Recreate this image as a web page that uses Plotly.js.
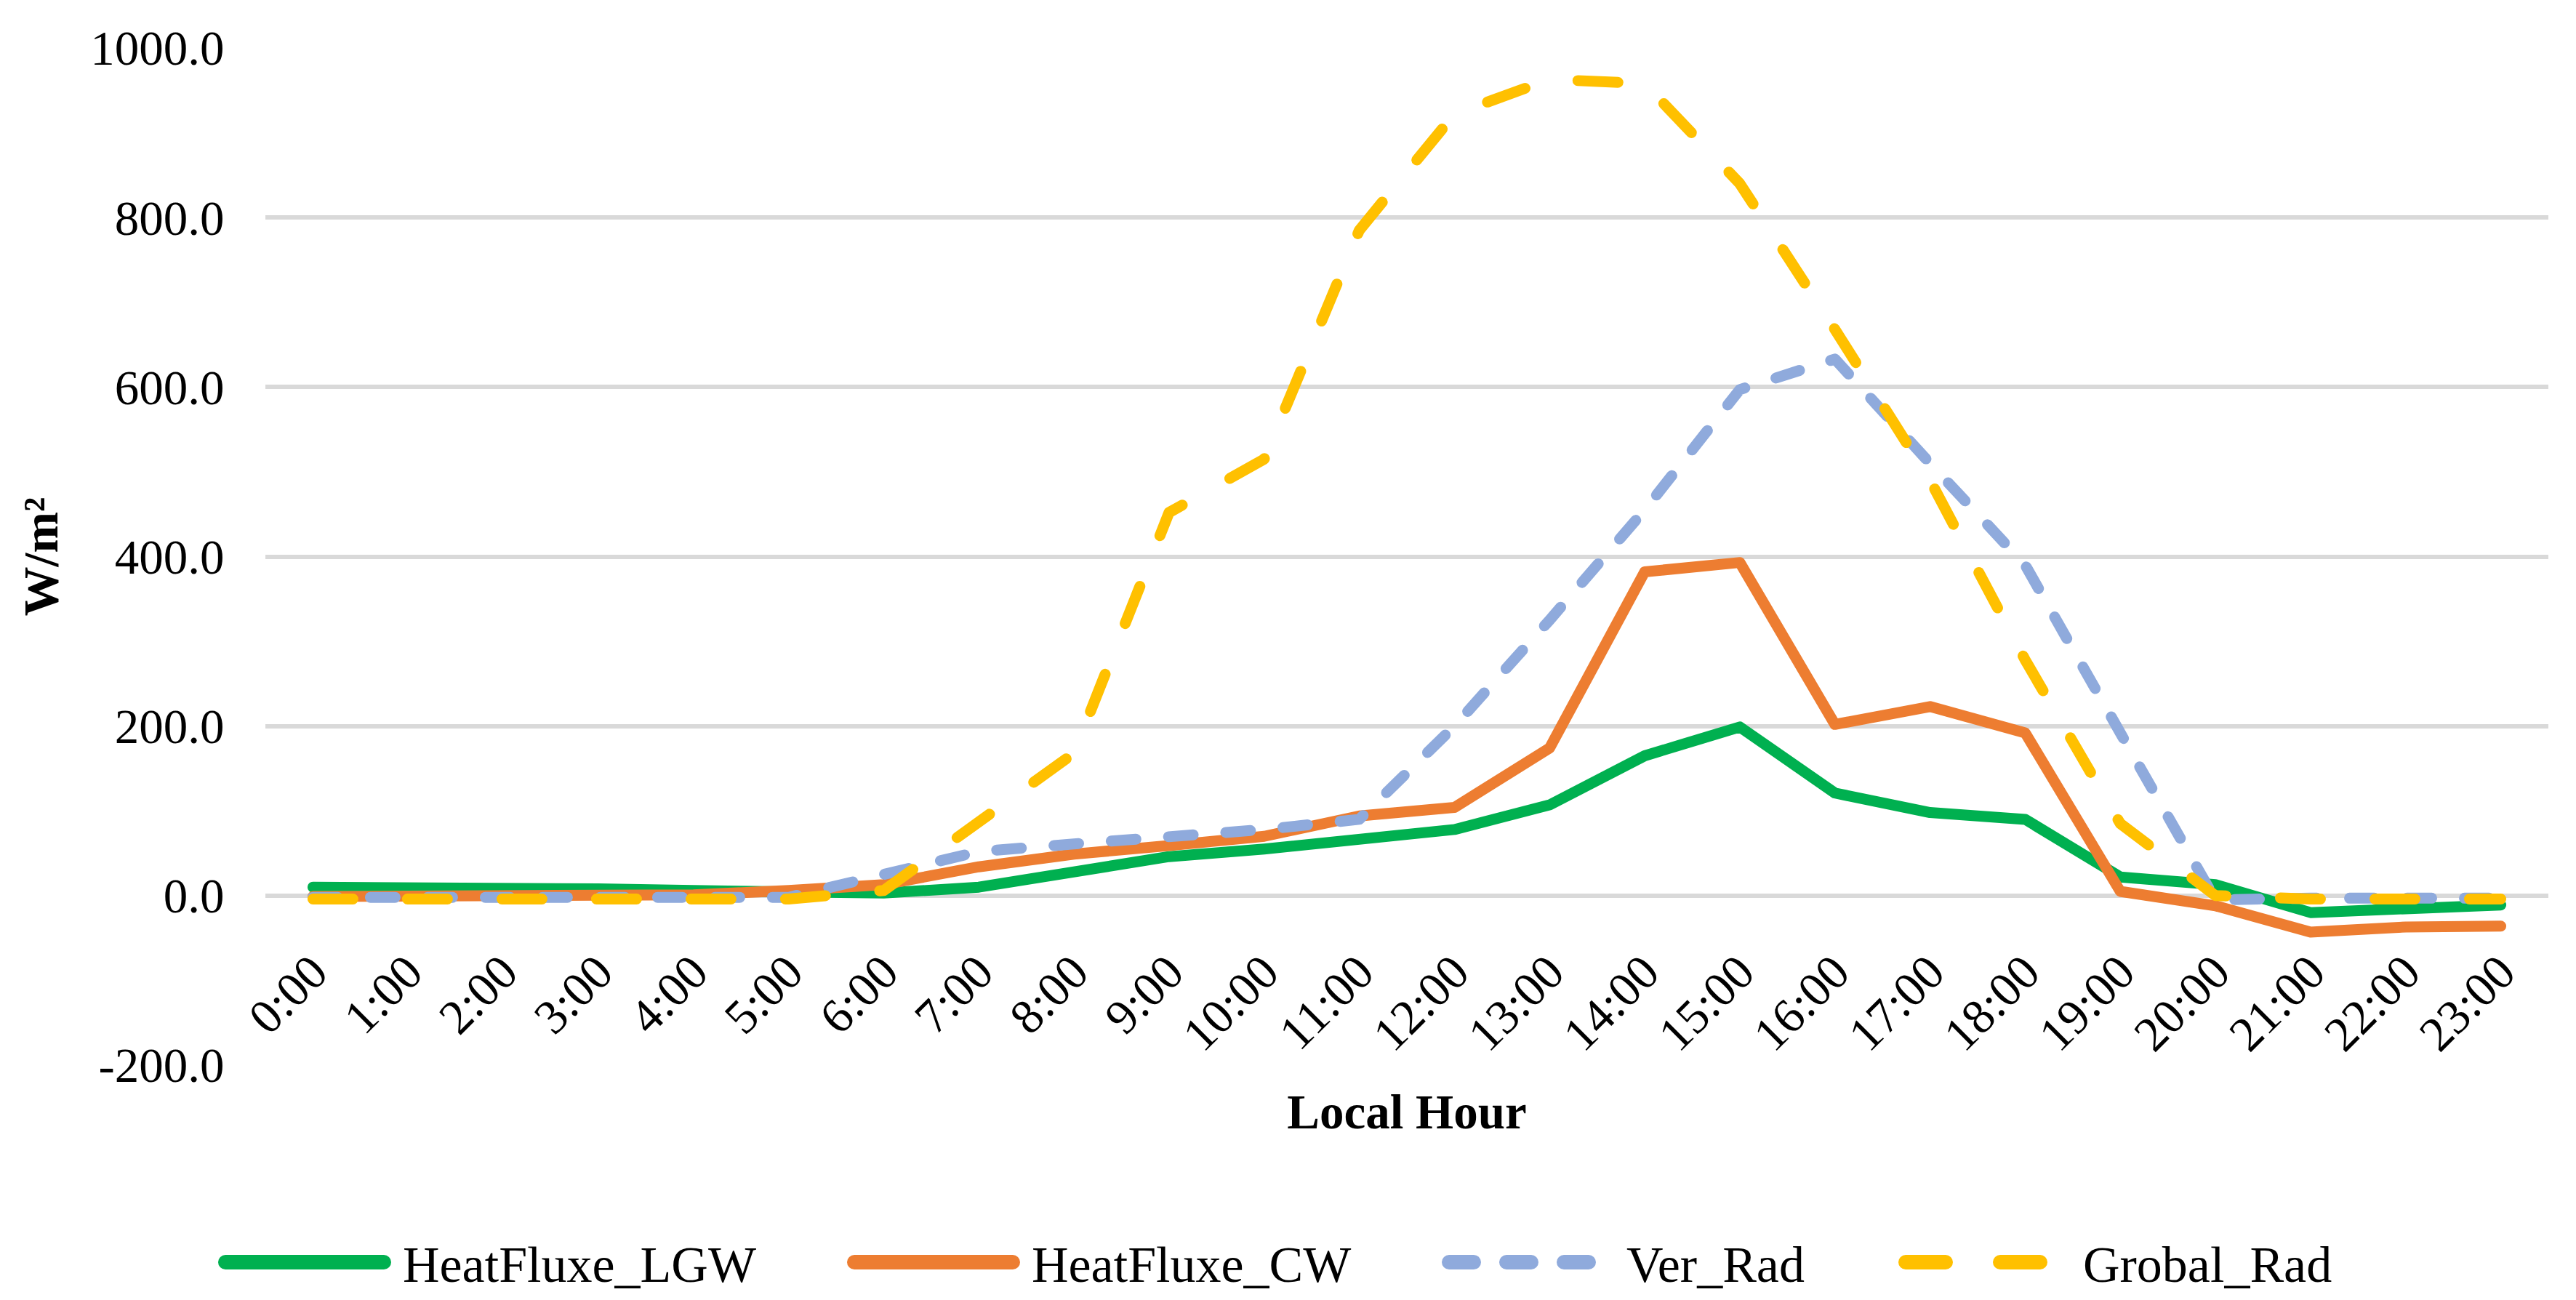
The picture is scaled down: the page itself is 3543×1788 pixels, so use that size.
<!DOCTYPE html>
<html>
<head>
<meta charset="utf-8">
<script src="https://cdn.plot.ly/plotly-3.0.1.min.js"></script>
<style>
  html, body { margin: 0; padding: 0; background: #fff; }
  #chart { width: 3543px; height: 1788px; }
</style>
</head>
<body>
<div id="chart"></div>
<script>
var hours = ["0:00","1:00","2:00","3:00","4:00","5:00","6:00","7:00","8:00","9:00","10:00","11:00",
             "12:00","13:00","14:00","15:00","16:00","17:00","18:00","19:00","20:00","21:00","22:00","23:00"];
var heatFluxeLGW = [10, 10, 9, 8, 6, 4, 3, 10, 27, 46, 55, 65, 78, 107, 165, 199, 121, 98, 90, 22, 13, -20, -16, -11];
var heatFluxeCW  = [-1, -1, -1, -1, 1, 6, 13, 34, 49, 59, 70, 94, 104, 174, 382, 393, 202, 223, 192, 5, -12, -43, -37, -36];
var verRad       = [-2, -2, -2, -2, -2, -2, 25, 52, 61, 69, 78, 90, 200, 325, 455, 597, 633, 510, 390, 192, -5, -3, -3, -3];
var grobalRad    = [-4, -4, -4, -4, -4, -4, 6, 86, 168, 452, 515, 785, 922, 963, 958, 840, 668, 490, 278, 85, 0, -4, -4, -4];
var seriesNames  = ["HeatFluxe_LGW", "HeatFluxe_CW", "Ver_Rad", "Grobal_Rad"];
var yTicks = [-200, 0, 200, 400, 600, 800, 1000];
var yTickText = yTicks.map(function (v) { return v.toFixed(1); });

var FONT = "Palatino Linotype, Book Antiqua, Palatino, Liberation Serif, serif";

var traces = [
  {x: hours, y: heatFluxeLGW, name: seriesNames[0], type: "scatter", mode: "lines",
   line: {color: "#00B050", width: 15}, legend: "legend"},
  {x: hours, y: heatFluxeCW, name: seriesNames[1], type: "scatter", mode: "lines",
   line: {color: "#ED7D31", width: 15}, legend: "legend2"},
  {x: hours, y: verRad, name: seriesNames[2], type: "scatter", mode: "lines",
   line: {color: "#8FAADC", width: 15, dash: "34px,45px"}, legend: "legend3"},
  {x: hours, y: grobalRad, name: seriesNames[3], type: "scatter", mode: "lines",
   line: {color: "#FFC000", width: 15, dash: "55px,75px"}, legend: "legend4"}
];

function leg(xpx) {
  return {x: xpx / 3543, xref: "container", xanchor: "left",
          y: 1 - 1736 / 1788, yref: "container", yanchor: "middle",
          orientation: "h", itemwidth: 249, bgcolor: "rgba(0,0,0,0)",
          font: {family: FONT, size: 70, color: "#000"}};
}

var layout = {
  width: 3543, height: 1788,
  paper_bgcolor: "#fff", plot_bgcolor: "#fff",
  margin: {l: 365, r: 38, t: 66, b: 323},
  font: {family: FONT, size: 67, color: "#000"},
  showlegend: true,
  legend: leg(295), legend2: leg(1160), legend3: leg(1978), legend4: leg(2606),
  xaxis: {
    type: "category", range: [-0.5, 23.5],
    anchor: "free", position: 1 / 6,
    showgrid: false, showline: false, zeroline: false,
    ticks: "outside", ticklen: 38, tickcolor: "rgba(0,0,0,0)",
    tickangle: -45,
    tickfont: {family: FONT, size: 67, color: "#000"},
    title: {text: "<b>Local Hour</b>", font: {family: FONT, size: 67, color: "#000"}, standoff: 46}
  },
  yaxis: {
    range: [-200, 1000], tickvals: yTicks, ticktext: yTickText,
    showgrid: true, gridcolor: "#D9D9D9", gridwidth: 6,
    zeroline: false, showline: false,
    ticks: "outside", ticklen: 42, tickcolor: "rgba(0,0,0,0)",
    tickfont: {family: FONT, size: 67, color: "#000"},
    title: {text: "<b>W/m²</b>", font: {family: FONT, size: 68, color: "#000"}, standoff: 22}
  }
};

Plotly.newPlot("chart", traces, layout, {displayModeBar: false, staticPlot: true}).then(function (gd) {
  gd.querySelectorAll(".scatterlayer .js-line").forEach(function (p) {
    p.style.strokeLinecap = "round";
    p.style.strokeLinejoin = "round";
  });
  gd.querySelectorAll(".legendlines path").forEach(function (p) {
    var d = p.getAttribute("d") || "";
    var m = d.match(/^M([-\d.]+),([-\d.]+)h([-\d.]+)$/);
    if (m) {
      var a = parseFloat(m[1]), b = parseFloat(m[2]), c = parseFloat(m[3]);
      p.setAttribute("d", "M" + (a + 10) + "," + b + "h" + (c - 31));
    }
    p.style.strokeWidth = "20px";
    p.style.strokeLinecap = "round";
  });
});
</script>
</body>
</html>
